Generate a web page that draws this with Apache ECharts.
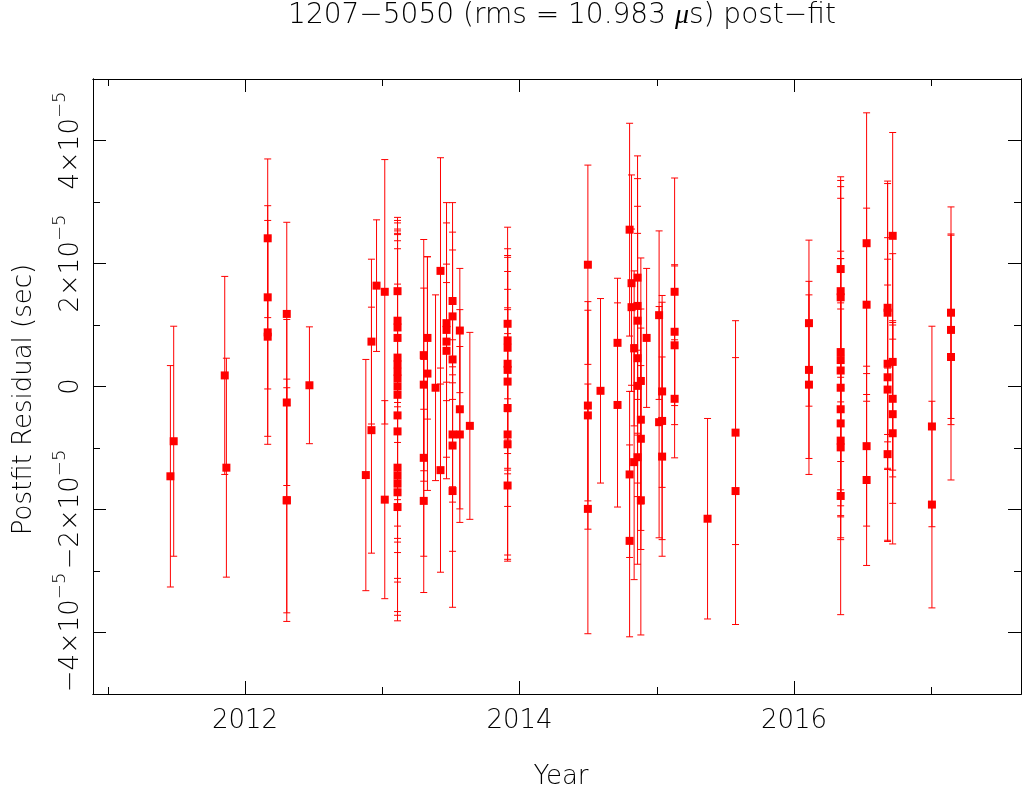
<!DOCTYPE html>
<html>
<head>
<meta charset="utf-8">
<script src="https://cdn.jsdelivr.net/npm/echarts@6/dist/echarts.min.js"></script>
<style>
html,body{margin:0;padding:0;background:#fff;}
#chart{width:1024px;height:795px;}
</style>
</head>
<body>
<div id="chart"></div>
<script>
// ---------------- data ----------------
const chartTitle = '1207−5050 (rms = 10.983 {i|μ}s) post−fit';
const xAxisTitle = 'Year';
const yAxisTitle = 'Postfit Residual (sec)';

// epoch of each TOA (decimal year)
const epochYears = [
  2011.456, 2011.480, 2011.852, 2011.864,
  2012.165, 2012.165, 2012.165, 2012.165,
  2012.304, 2012.304, 2012.304, 2012.304,
  2012.469, 2012.880, 2012.921, 2012.921, 2012.958, 2013.018, 2013.018,
  2013.111, 2013.111, 2013.111, 2013.111, 2013.111, 2013.111, 2013.111, 2013.111, 2013.111,
  2013.111, 2013.111, 2013.111, 2013.111, 2013.111, 2013.111, 2013.111, 2013.111,
  2013.302, 2013.302, 2013.302, 2013.302, 2013.329, 2013.329, 2013.388, 2013.424, 2013.424,
  2013.468, 2013.468, 2013.468, 2013.468, 2013.512, 2013.512, 2013.512, 2013.512, 2013.512, 2013.512,
  2013.565, 2013.565, 2013.565, 2013.638,
  2013.913, 2013.913, 2013.913, 2013.913, 2013.913, 2013.913, 2013.913, 2013.913, 2013.913, 2013.913,
  2014.498, 2014.498, 2014.498, 2014.498, 2014.590, 2014.714, 2014.714,
  2014.802, 2014.802, 2014.802, 2014.816, 2014.816, 2014.835, 2014.835,
  2014.860, 2014.860, 2014.860, 2014.860, 2014.860, 2014.860,
  2014.884, 2014.884, 2014.884, 2014.884, 2014.926, 2015.017, 2015.017,
  2015.039, 2015.039, 2015.039, 2015.130, 2015.130, 2015.130, 2015.130,
  2015.370, 2015.574, 2015.574,
  2016.109, 2016.109, 2016.109,
  2016.340, 2016.340, 2016.340, 2016.340, 2016.340, 2016.340, 2016.340, 2016.340, 2016.340, 2016.340, 2016.340, 2016.340,
  2016.529, 2016.529, 2016.529, 2016.529,
  2016.682, 2016.682, 2016.682, 2016.682, 2016.682, 2016.682,
  2016.719, 2016.719, 2016.719, 2016.719, 2016.719,
  2017.005, 2017.005, 2017.144, 2017.144, 2017.144
];

// post-fit residual, microseconds
const residualsUs = [
  -14.6, -8.9, 1.8, -13.2,
  24.1, 14.5, 8.8, 8.1,
  11.8, -2.6, -18.5, -18.5,
  0.2, -14.4, 7.3, -7.1, 16.4, 15.4, -18.4,
  15.5, 10.7, 9.6, 7.9, 4.7, 3.6, 2.4, 1.3, 0.0,
  -1.35, -4.7, -7.3, -13.2, -14.5, -15.8, -17.2, -19.6,
  5.1, 0.3, -11.6, -18.6, 7.9, 2.1, -0.2, 18.8, -13.6,
  10.3, 9.2, 7.3, 5.8, 13.9, 11.4, 4.4, -7.8, -9.6, -17.0,
  9.1, -3.7, -7.8, -6.4,
  10.2, 7.5, 6.3, 3.7, 2.7, 0.8, -3.5, -7.8, -9.4, -16.1,
  19.8, -3.1, -4.7, -19.9, -0.7, 7.1, -3.0,
  25.5, -14.3, -25.1, 16.8, 12.9, 6.2, -12.3,
  17.7, 13.1, 10.7, 4.6, 0.1, -11.5,
  0.9, -5.4, -8.5, -18.5, 7.9, 11.6, -5.8,
  -0.8, -5.6, -11.4, 15.4, 8.9, 6.7, -2.0,
  -21.5, -7.5, -17.0,
  10.3, 2.7, 0.3,
  19.1, 15.5, 14.5, 5.6, 4.3, 2.6, -0.2, -3.7, -6.0, -8.8, -9.9, -17.8,
  23.3, 13.3, -9.7, -15.2,
  12.8, 12.0, 3.7, 1.5, -0.5, -11.0,
  24.5, 4.0, -2.0, -4.5, -7.6,
  -6.5, -19.2, 12.0, 9.2, 4.8
];

// 1-sigma TOA uncertainty, microseconds
const errorsUs = [
  18.0, 18.7, 16.1, 17.8,
  12.9, 14.9, 18.2, 16.2,
  14.9, 13.5, 19.7, 18.3,
  9.5, 18.8, 13.4, 20.0, 10.7, 21.5, 16.1,
  12, 14, 17, 17, 19, 22, 20, 24, 27,
  18, 20, 18, 18, 23.6, 16, 20, 17,
  18.8, 15.7, 16.0, 14.9, 13.2, 19.0, 15.1, 18.4, 16.6,
  9.6, 20.7, 9.6, 20.8, 16.0, 10.8, 20.7, 11.0, 17.2, 18.9,
  10.1, 16.2, 14.3, 15.2,
  12.2, 18.4, 15.0, 17.3, 16.0, 15.0, 16.0, 20.6, 18.0, 12.0,
  16.2, 15.5, 18.5, 20.3, 15.0, 10.5, 16.6,
  17.3, 13.5, 15.6, 17.6, 12.7, 12.6, 19.1,
  19.8, 20.7, 18.6, 20.3, 18.0, 17.4,
  20.0, 18.0, 18.0, 21.9, 11.3, 13.7, 18.8,
  15.6, 19.3, 16.2, 18.5, 10.9, 12.9, 9.6,
  16.3, 18.2, 21.7,
  13.5, 14.4, 14.6,
  15.0, 18.0, 18.0, 25.0, 16.5, 19.4, 21.0, 17.3, 18.6, 8.5, 15.0, 19.3,
  21.2, 15.7, 13.0, 13.9,
  20.6, 21.0, 17.0, 15.0, 24.7, 14.0,
  16.8, 17.6, 12.7, 14.5, 18.0,
  16.3, 16.8, 17.2, 15.4, 20.0
];

// axis ticks and labels
const xMajorTicks = [2012, 2014, 2016];
const xMinorTicks = [2011, 2013, 2015, 2017];
const yMajorTicks = [-40, -20, 0, 20, 40];          // microseconds
const yMinorTicks = [-30, -10, 10, 30];
const yTickMantissa = ['−4×10', '−2×10', '0', '2×10', '4×10'];
const yTickExponent = ['−5', '−5', '', '−5', '−5'];

// ---------------- chart ----------------
const X_MIN = 2010.892, X_MAX = 2017.654;
const Y_MIN = -50, Y_MAX = 50;
const FONT = "'DejaVu Sans ExtraLight', 'DejaVu Sans', 'Liberation Sans', sans-serif";
const FW = 200;
const INK = '#000';
const RED = '#ff0000';

function xAxisCfg(pos, ticks, len, withLabels) {
  const cfg = {
    type: 'value', position: pos, min: X_MIN, max: X_MAX,
    axisLine: { show: true, onZero: false, lineStyle: { color: INK, width: 1 } },
    axisTick: { show: true, inside: true, length: len, customValues: ticks,
                lineStyle: { color: INK, width: 1 } },
    axisLabel: { show: false },
    splitLine: { show: false }
  };
  if (withLabels) {
    cfg.axisLabel = {
      show: true, customValues: ticks, margin: 14,
      fontFamily: FONT, fontWeight: FW, fontSize: 26, color: INK,
      formatter: v => String(Math.round(v))
    };
    cfg.name = xAxisTitle;
    cfg.nameLocation = 'middle';
    cfg.nameGap = 70;
    cfg.nameTextStyle = { fontFamily: FONT, fontWeight: FW, fontSize: 26, color: INK, padding: [0, 0, 0, 8] };
  }
  return cfg;
}

function yAxisCfg(pos, ticks, len, withLabels) {
  const cfg = {
    type: 'value', position: pos, min: Y_MIN, max: Y_MAX,
    axisLine: { show: true, onZero: false, lineStyle: { color: INK, width: 1 } },
    axisTick: { show: true, inside: true, length: len, customValues: ticks,
                lineStyle: { color: INK, width: 1 } },
    axisLabel: { show: false },
    splitLine: { show: false }
  };
  if (withLabels) {
    cfg.axisLabel = {
      show: true, customValues: ticks, rotate: 90, margin: 2,
      formatter: v => {
        const i = yMajorTicks.indexOf(v);
        const m = yTickMantissa[i], e = yTickExponent[i];
        return e ? '{m|' + m + '}{e|' + e + '}' : '{m|' + m + '}';
      },
      rich: {
        m: { fontFamily: FONT, fontWeight: FW, fontSize: 26, lineHeight: 40, color: INK },
        e: { fontFamily: FONT, fontWeight: FW, fontSize: 18, lineHeight: 18, color: INK, verticalAlign: 'top' }
      }
    };
    cfg.name = yAxisTitle;
    cfg.nameLocation = 'middle';
    cfg.nameRotate = 90;
    cfg.nameGap = 56;
    cfg.nameTextStyle = { fontFamily: FONT, fontWeight: FW, fontSize: 26, color: INK, padding: [0, 26, 0, 0] };
  }
  return cfg;
}

const errorBarData = epochYears.map((t, i) => [t, residualsUs[i] - errorsUs[i], residualsUs[i] + errorsUs[i]]);
const pointData = epochYears.map((t, i) => [t, residualsUs[i]]);

const chart = echarts.init(document.getElementById('chart'), null, { renderer: 'canvas' });
chart.setOption({
  animation: false,
  backgroundColor: '#fff',
  grid: { left: 93, right: 3, top: 79, bottom: 99, containLabel: false },
  graphic: [{
    type: 'text', x: 562, y: 1,
    style: {
      text: chartTitle,
      fontFamily: FONT, fontWeight: FW, fontSize: 28, lineHeight: 30, fill: INK,
      align: 'center', verticalAlign: 'top',
      rich: { i: { fontFamily: "'DejaVu Sans ExtraLight'", fontWeight: FW, fontSize: 28, lineHeight: 30, fontStyle: 'italic', fill: INK } }
    }
  }],
  xAxis: [
    xAxisCfg('bottom', xMajorTicks, 13, true),
    xAxisCfg('bottom', xMinorTicks, 7, false),
    xAxisCfg('top', xMajorTicks, 13, false),
    xAxisCfg('top', xMinorTicks, 7, false)
  ],
  yAxis: [
    yAxisCfg('left', yMajorTicks, 13, true),
    yAxisCfg('left', yMinorTicks, 7, false),
    yAxisCfg('right', yMajorTicks, 13, false),
    yAxisCfg('right', yMinorTicks, 7, false)
  ],
  series: [
    {
      type: 'custom', name: 'error', xAxisIndex: 0, yAxisIndex: 0,
      data: errorBarData, encode: { x: 0, y: [1, 2] }, silent: true, z: 2,
      renderItem: (params, api) => {
        const x = api.value(0);
        const lo = api.coord([x, api.value(1)]);
        const hi = api.coord([x, api.value(2)]);
        const hw = 3.5;
        const st = { stroke: RED, lineWidth: 1, fill: null };
        return {
          type: 'group',
          children: [
            { type: 'line', shape: { x1: lo[0], y1: lo[1], x2: hi[0], y2: hi[1] }, style: st },
            { type: 'line', shape: { x1: lo[0] - hw, y1: lo[1], x2: lo[0] + hw, y2: lo[1] }, style: st },
            { type: 'line', shape: { x1: hi[0] - hw, y1: hi[1], x2: hi[0] + hw, y2: hi[1] }, style: st }
          ]
        };
      }
    },
    {
      type: 'scatter', name: 'residual', xAxisIndex: 0, yAxisIndex: 0,
      data: pointData, symbol: 'rect', symbolSize: 8, z: 3,
      itemStyle: { color: RED, opacity: 1 }, silent: true
    }
  ]
});
</script>
</body>
</html>
